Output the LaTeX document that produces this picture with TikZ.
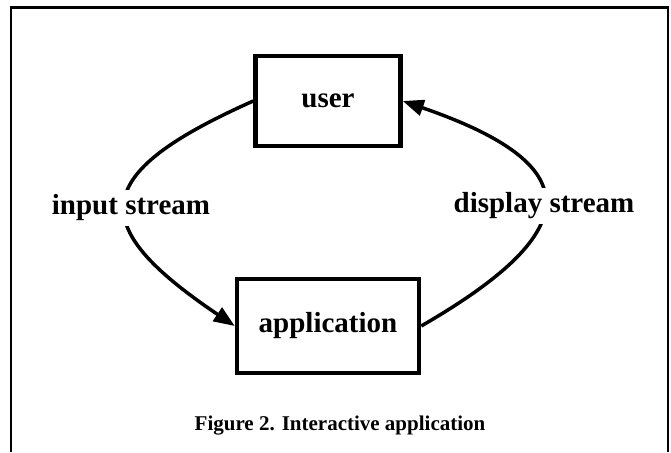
\documentclass[tikz,border=0pt]{standalone}
\usepackage{fontspec}
\setmainfont{Liberation Serif}
\usetikzlibrary{arrows.meta}

\begin{document}
\begin{tikzpicture}[x=1pt,y=-1pt,
        box/.style={rectangle,draw=black,line width=4.5pt,inner sep=0pt,
            font=\fontsize{29}{34}\selectfont\bfseries},
        lbl/.style={fill=white,inner sep=5pt,
            font=\fontsize{29}{34}\selectfont\bfseries},
        flow/.style={line width=3.5pt,-{Triangle[length=21pt,width=16pt]}}]
    \useasboundingbox (0,0) rectangle (671,452);
    \draw[line width=2.5pt] (11,452) -- (11,7.5) -- (668,7.5) -- (668,452);

    \node[box,minimum width=145pt,minimum height=90pt] (user) at (328,101) {user};
    \node[box,minimum width=182pt,minimum height=94pt] (appl) at (328,326) {application};

    \draw[flow] (user.west) to[out=204,in=146,looseness=2.05] (appl.west);
    \draw[flow] (appl.east) to[out=30,in=-19,looseness=2.2] (user.east);

    \node[lbl] (inp) at (131,208) {input stream};
    \node[lbl] (disp) at (544,206) {display stream};

    \node[font=\fontsize{21}{25}\selectfont\bfseries] (cap) at (340,426)
        {Figure 2. Interactive application};
\end{tikzpicture}
\end{document}
